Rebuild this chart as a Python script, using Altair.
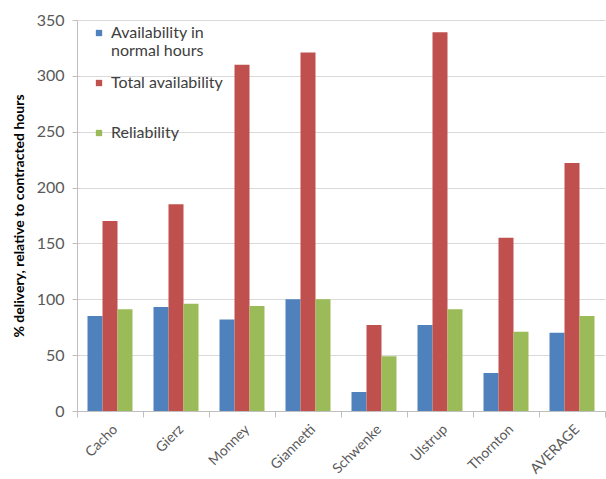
import altair as alt
import pandas as pd

categories = ["Cacho", "Gierz", "Monney", "Giannetti", "Schwenke", "Ulstrup", "Thornton", "AVERAGE"]
series_names = ["Availability in normal hours", "Total availability", "Reliability"]
availability_normal = [85, 93, 82, 100, 17, 77, 34, 70]
total_availability = [170, 185, 310, 321, 77, 339, 155, 222]
reliability = [91, 96, 94, 100, 49, 91, 71, 85]
colors = ["#4F81BD", "#C0504D", "#9BBB59"]
y_ticks = [0, 50, 100, 150, 200, 250, 300, 350]

rows = []
for name, vals in zip(series_names, [availability_normal, total_availability, reliability]):
    for c, v in zip(categories, vals):
        rows.append({"category": c, "series": name, "value": v})
df = pd.DataFrame(rows)

FONT = "Lato"

chart = alt.Chart(df).mark_bar().encode(
    x=alt.X("category:N", sort=categories, title=None,
            scale=alt.Scale(paddingInner=0, paddingOuter=0),
            axis=alt.Axis(labelAngle=-45, tickBand="extent", domainColor="#BFBFBF",
                          tickColor="#BFBFBF", tickSize=6, labelColor="#595959",
                          labelFont=FONT, labelFontSize=14, labelPadding=5)),
    xOffset=alt.XOffset("series:N", sort=series_names,
                        scale=alt.Scale(paddingInner=0, paddingOuter=0.7)),
    y=alt.Y("value:Q", title="% delivery, relative to contracted hours",
            scale=alt.Scale(domain=[0, 350], nice=False),
            axis=alt.Axis(values=y_ticks, grid=True, gridColor="#D9D9D9",
                          domainColor="#BFBFBF", tickColor="#BFBFBF", tickSize=5,
                          labelColor="#595959", labelFont=FONT, labelFontSize=16,
                          labelPadding=8, titleFont=FONT, titleFontSize=14,
                          titleFontWeight="bold", titleColor="#000000", titlePadding=10)),
    color=alt.Color("series:N", sort=series_names,
                    scale=alt.Scale(domain=series_names, range=colors),
                    legend=alt.Legend(title=None, orient="none", legendX=14, legendY=5,
                                      symbolType="square", symbolSize=40, symbolStrokeWidth=0,
                                      labelFont=FONT, labelFontSize=16, labelColor="#404040",
                                      gridAlign="all", rowPadding=16,
                                      labelLimit=300,
                                      labelExpr="datum.label == 'Availability in normal hours' ? ['Availability in', 'normal hours'] : datum.label")),
).properties(
    width=528, height=391,
    padding={"left": 77, "top": 20, "right": 1, "bottom": 68},
    autosize=alt.AutoSizeParams(type="none"),
).configure_view(stroke=None)

chart.save("out.html", embed_options={"renderer": "svg", "actions": False})
